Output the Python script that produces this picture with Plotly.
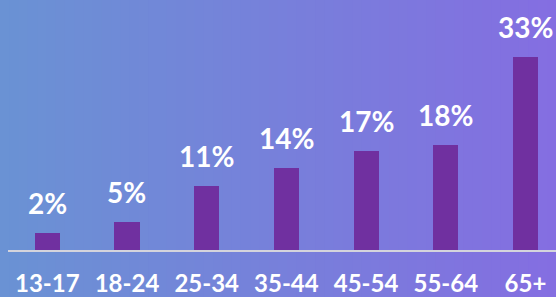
import plotly.graph_objects as go

categories = ["13-17", "18-24", "25-34", "35-44", "45-54", "55-64", "65+"]
bar_heights = [2.9, 4.8, 10.9, 14.0, 16.9, 18.0, 33.0]
labels = ["2%", "5%", "11%", "14%", "17%", "18%", "33%"]

W, H = 556, 297
ML, MR, MT, MB = 8, 0, 0, 47
pw = W - ML - MR
ph = H - MT - MB

xs = list(range(len(categories)))

fig = go.Figure()
fig.add_trace(go.Bar(x=xs, y=bar_heights, width=0.314,
                     marker=dict(color="#7030a0", line=dict(width=0)),
                     hoverinfo="skip"))

for x, h, t in zip(xs, bar_heights, labels):
    fig.add_annotation(x=x, y=h, text=t, showarrow=False, yanchor="bottom",
                       yshift=11, font=dict(family="Lato", size=28, color="white", weight="bold"))

# gradient background
c0 = (106, 146, 212)
c1 = (132, 110, 225)
n = 60
shapes = []
x_left = -ML / pw
x_right = 1 + MR / pw
for i in range(n):
    f = i / (n - 1)
    col = tuple(round(c0[k] + (c1[k] - c0[k]) * f) for k in range(3))
    a = x_left + (x_right - x_left) * i / n
    b = x_left + (x_right - x_left) * (i + 1) / n + 0.002
    shapes.append(dict(type="rect", xref="paper", yref="paper", x0=a, x1=b,
                       y0=-MB / ph, y1=1 + MT / ph, fillcolor="rgb(%d,%d,%d)" % col,
                       line=dict(width=0), layer="below"))

fig.update_layout(
    width=W, height=H,
    margin=dict(l=ML, r=MR, t=MT, b=MB, autoexpand=False),
    paper_bgcolor="rgba(0,0,0,0)", plot_bgcolor="rgba(0,0,0,0)",
    shapes=shapes, showlegend=False, bargap=0,
    xaxis=dict(range=[-0.493, 6.383], tickvals=xs, ticktext=categories,
               showgrid=False, zeroline=False, showline=True, linecolor="#d4d4dc",
               linewidth=2, ticks="", ticklabelstandoff=11, automargin=False,
               tickfont=dict(family="Lato", size=24, color="white", weight="bold")),
    yaxis=dict(range=[0, ph / 5.85], visible=False, showgrid=False, zeroline=False,
               automargin=False),
)

fig.write_html("out.html", config={"displayModeBar": False},
               post_script="document.body.style.margin='0px';document.body.style.overflow='hidden';")
